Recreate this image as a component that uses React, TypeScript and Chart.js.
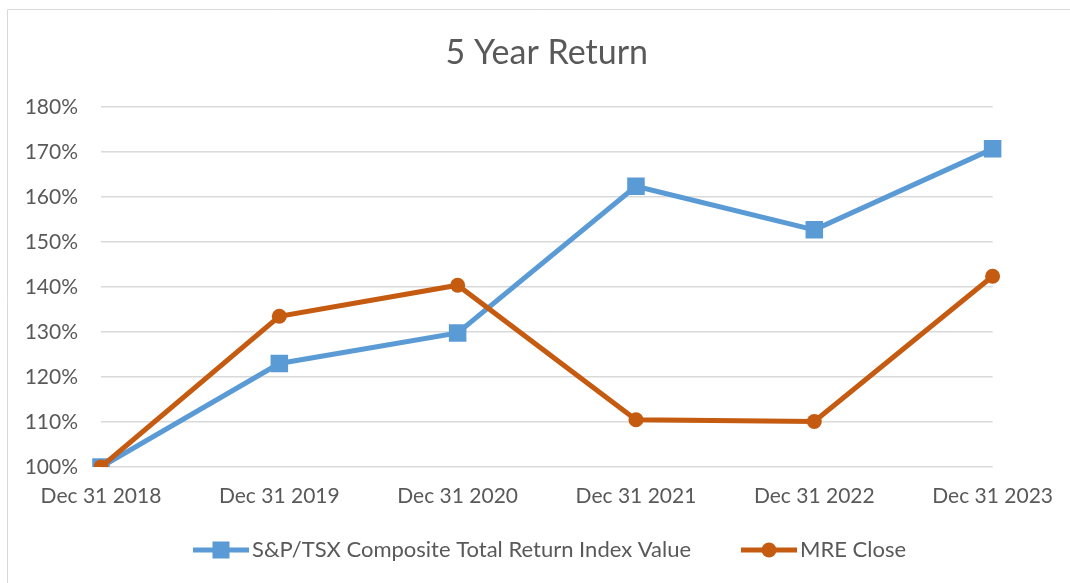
import React, { useEffect, useRef } from "react";
import { Chart, registerables } from "chart.js";

Chart.register(...registerables);

const categories = ["Dec 31 2018", "Dec 31 2019", "Dec 31 2020", "Dec 31 2021", "Dec 31 2022", "Dec 31 2023"];
const tsxValues = [100, 123.0, 129.8, 162.4, 152.7, 170.7];
const mreValues = [100, 133.5, 140.4, 110.5, 110.1, 142.4];
const seriesNames = ["S&P/TSX Composite Total Return Index Value", "MRE Close"];
const titleText = "5 Year Return";
const yMin = 100;
const yMax = 180;
const yStep = 10;

const BLUE = "#5B9BD5";
const ORANGE = "#C55A11";
const TEXT = "#595959";
const GRID = "#D9D9D9";
const FONT = "Lato, 'Open Sans', sans-serif";
const LINE_W = 5;

const frameAndLegend = {
  id: "frameAndLegend",
  beforeDraw(chart: any) {
    const ctx = chart.ctx;
    ctx.save();
    ctx.fillStyle = "#ffffff";
    ctx.fillRect(0, 0, chart.width, chart.height);
    ctx.strokeStyle = GRID;
    ctx.lineWidth = 1;
    ctx.beginPath();
    ctx.moveTo(7.5, chart.height + 5);
    ctx.lineTo(7.5, 9.5);
    ctx.lineTo(chart.width + 5, 9.5);
    ctx.stroke();
    ctx.restore();
  },
  afterDraw(chart: any) {
    const ctx = chart.ctx;
    const y = 550;
    const items = [
      { x: 193, color: BLUE, marker: "rect", text: seriesNames[0] },
      { x: 741, color: ORANGE, marker: "circle", text: seriesNames[1] },
    ];
    ctx.save();
    items.forEach((it) => {
      ctx.strokeStyle = it.color;
      ctx.fillStyle = it.color;
      ctx.lineWidth = LINE_W;
      ctx.lineCap = "butt";
      ctx.beginPath();
      ctx.moveTo(it.x, y);
      ctx.lineTo(it.x + 56, y);
      ctx.stroke();
      const cx = it.x + 28;
      if (it.marker === "rect") {
        ctx.fillRect(cx - 8.5, y - 8.5, 17, 17);
      } else {
        ctx.beginPath();
        ctx.arc(cx, y, 7.5, 0, Math.PI * 2);
        ctx.fill();
      }
      ctx.fillStyle = TEXT;
      ctx.font = `22px ${FONT}`;
      ctx.textBaseline = "middle";
      ctx.textAlign = "left";
      ctx.fillText(it.text, it.x + 59, y);
    });
    ctx.restore();
  },
};

export default function App() {
  const ref = useRef<HTMLCanvasElement | null>(null);
  useEffect(() => {
    if (!ref.current) return;
    const chart = new Chart(ref.current, {
      type: "line",
      data: {
        labels: categories,
        datasets: [
          {
            label: seriesNames[0],
            data: tsxValues,
            borderColor: BLUE,
            backgroundColor: BLUE,
            borderWidth: LINE_W,
            pointStyle: "rect",
            pointRadius: 12.4,
            pointHoverRadius: 12.4,
            pointBorderWidth: 0,
            pointBackgroundColor: BLUE,
            tension: 0,
            order: 1,
          },
          {
            label: seriesNames[1],
            data: mreValues,
            borderColor: ORANGE,
            backgroundColor: ORANGE,
            borderWidth: LINE_W,
            pointStyle: "circle",
            pointRadius: 7.5,
            pointHoverRadius: 7.5,
            pointBorderWidth: 0,
            pointBackgroundColor: ORANGE,
            tension: 0,
            order: 0,
          },
        ],
      },
      options: {
        animation: false,
        responsive: false,
        maintainAspectRatio: false,
        layout: { padding: { left: 20, right: 77, top: 0, bottom: 0 } },
        plugins: {
          legend: { display: false },
          tooltip: { enabled: false },
          title: {
            display: true,
            fullSize: false,
            text: titleText,
            color: TEXT,
            font: { family: FONT, size: 34, weight: "normal", lineHeight: 1.2 },
            padding: { top: 33, bottom: 33.2 },
          },
        },
        scales: {
          x: {
            offset: false,
            grid: { display: false, drawTicks: false },
            border: { display: false },
            ticks: {
              color: TEXT,
              font: { family: FONT, size: 21, lineHeight: 1.2 },
              padding: 17,
              maxRotation: 0,
              autoSkip: false,
            },
            afterFit: (s: any) => {
              s.height = 116;
            },
          },
          y: {
            min: yMin,
            max: yMax,
            grid: { color: GRID, lineWidth: 1.5, drawTicks: false },
            border: { display: false },
            ticks: {
              stepSize: yStep,
              color: TEXT,
              font: { family: FONT, size: 21 },
              padding: 23,
              callback: (v: any) => `${v}%`,
            },
            afterFit: (s: any) => {
              s.width = 81;
            },
          },
        },
      },
      plugins: [frameAndLegend],
    });
    return () => chart.destroy();
  }, []);
  return (
    <div style={{ position: "fixed", left: 0, top: 0, width: 1070, height: 583, background: "#fff" }}>
      <canvas ref={ref} width={1070} height={583} style={{ width: 1070, height: 583, display: "block" }} />
    </div>
  );
}
